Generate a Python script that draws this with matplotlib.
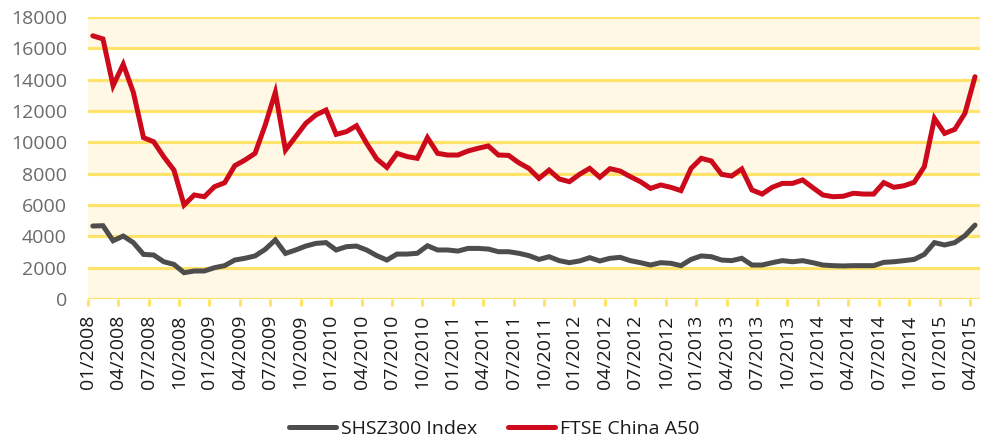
import numpy as np
import pandas as pd
import matplotlib
matplotlib.use('Agg')
import matplotlib.pyplot as plt

# monthly closes, 01/2008 .. 04/2015
months = pd.date_range('2008-01-01', periods=88, freq='MS').strftime('%m/%Y').tolist()

shsz300 = [4660, 4680, 3720, 4020, 3600, 2850, 2810, 2380, 2210, 1680,
           1790, 1790, 2000, 2130, 2490, 2600, 2750, 3170, 3770, 2910,
           3130, 3380, 3550, 3600, 3130, 3340, 3380, 3130, 2770, 2490,
           2870, 2870, 2920, 3400, 3130, 3130, 3060, 3230, 3230, 3190,
           3020, 3020, 2920, 2770, 2530, 2700, 2450, 2320, 2430, 2640,
           2430, 2600, 2660, 2450, 2320, 2170, 2320, 2280, 2130, 2530,
           2750, 2700, 2490, 2450, 2600, 2170, 2170, 2320, 2450, 2380,
           2450, 2320, 2170, 2130, 2110, 2130, 2130, 2130, 2340, 2380,
           2450, 2530, 2850, 3600, 3450, 3600, 4040, 4720]

ftse_a50 = [16800, 16600, 13620, 14980, 13190, 10300, 10040, 9080, 8230, 6000,
            6640, 6530, 7170, 7420, 8510, 8870, 9300, 11100, 13190, 9510,
            10360, 11210, 11750, 12060, 10510, 10680, 11060, 9940, 8940, 8400,
            9300, 9090, 8980, 10300, 9300, 9190, 9190, 9450, 9620, 9770,
            9190, 9170, 8700, 8340, 7700, 8230, 7660, 7490, 7960, 8340,
            7770, 8320, 8170, 7810, 7490, 7060, 7280, 7130, 6920, 8340,
            8980, 8810, 7960, 7850, 8300, 6960, 6700, 7130, 7380, 7380,
            7600, 7110, 6640, 6530, 6560, 6750, 6700, 6700, 7430, 7130,
            7230, 7450, 8450, 11530, 10570, 10830, 11850, 14190]

yticks = list(range(0, 18001, 2000))

grid_col = '#FFE36B'
band_col = '#FFF8E4'

plt.rcParams['font.family'] = ['Open Sans', 'DejaVu Sans']

fig = plt.figure(figsize=(9.88, 4.43), dpi=100)
ax = fig.add_axes([0.0888, 0.325, 0.9032, 0.6366])

x = np.arange(len(months))
for lo in yticks[:-1:2]:
	ax.axhspan(lo, lo + 2000, color=band_col, lw=0, zorder=0)
for y in yticks:
	ax.axhline(y, color=grid_col, lw=2.3, zorder=1)

ax.plot(x, shsz300, color='#4d4d4d', lw=3.6, label='SHSZ300 Index', zorder=3,
	solid_joinstyle='miter', solid_capstyle='round')
ax.plot(x, ftse_a50, color='#cc0a1b', lw=3.6, label='FTSE China A50', zorder=4,
	solid_joinstyle='miter', solid_capstyle='round')

ax.set_xlim(-0.5, len(months) - 0.5)
ax.set_ylim(0, 18000)
ax.set_yticks(yticks)
ax.set_yticklabels([str(v) for v in yticks])
ax.set_xticks(x[::3] - 0.5)
ax.set_xticklabels(months[::3], rotation=90)

for s in ax.spines.values():
	s.set_visible(False)
ax.tick_params(axis='y', length=0, pad=15, labelsize=14, labelcolor='#6b6b6b')
ax.tick_params(axis='x', length=5, width=2.3, color=grid_col, pad=6,
	labelsize=14, labelcolor='#1a1a1a')

fig.legend(loc='lower center', bbox_to_anchor=(0.5, -0.028), ncol=2, frameon=False,
	fontsize=14, handlelength=2.4, handletextpad=0.25, columnspacing=1.6,
	labelcolor='#1a1a1a')

plt.savefig('out.png', dpi=100)
